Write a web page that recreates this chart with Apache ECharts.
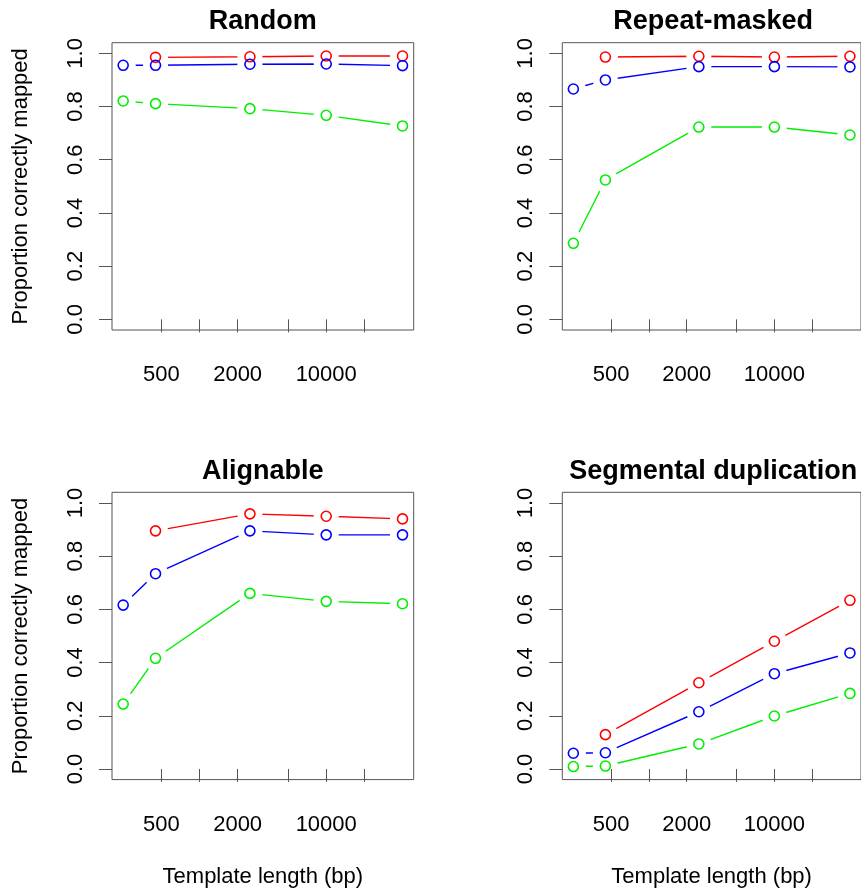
<!DOCTYPE html>
<html lang="en">

<head>
  <meta charset='utf-8'>
  <title>Proportion correctly mapped by template length</title>
  <style>
    html, body { margin: 0; padding: 0; background: #fff; overflow: hidden; }
  </style>
</head>

<body>
  <div id="main" style="width: 861px;height:891px;"></div>
  <script src="https://cdn.jsdelivr.net/npm/echarts@6/dist/echarts.min.js"></script>
  <script type="text/javascript">
    // template lengths (bp), one per point
    var lengths = [250, 450, 2500, 10000, 40000];
    var titles = ['Random', 'Repeat-masked', 'Alignable', 'Segmental duplication'];
    // proportion correctly mapped, one array per panel (null = no point)
    var redRandom = [null, 0.985, 0.987, 0.990, 0.990];
    var blueRandom = [0.955, 0.955, 0.959, 0.960, 0.954];
    var greenRandom = [0.821, 0.811, 0.792, 0.767, 0.727];
    var redMasked = [null, 0.986, 0.989, 0.986, 0.989];
    var blueMasked = [0.866, 0.900, 0.950, 0.950, 0.949];
    var greenMasked = [0.286, 0.524, 0.723, 0.723, 0.693];
    var redAlignable = [null, 0.895, 0.959, 0.950, 0.940];
    var blueAlignable = [0.616, 0.734, 0.895, 0.880, 0.880];
    var greenAlignable = [0.244, 0.416, 0.660, 0.630, 0.621];
    var redSegdup = [null, 0.129, 0.324, 0.480, 0.634];
    var blueSegdup = [0.059, 0.061, 0.215, 0.358, 0.436];
    var greenSegdup = [0.009, 0.011, 0.094, 0.199, 0.284];
    // axis ticks
    var xTicks = [500, 1000, 2000, 5000, 10000, 20000];
    var xLabels = [500, 2000, 10000];
    var yTicks = [0, 0.2, 0.4, 0.6, 0.8, 1.0];

    var panelData = [
      [redRandom, blueRandom, greenRandom],
      [redMasked, blueMasked, greenMasked],
      [redAlignable, blueAlignable, greenAlignable],
      [redSegdup, blueSegdup, greenSegdup]
    ];
    var colors = ['#ff0000', '#0000ff', '#00ee00'];
    var font = '"Liberation Sans", Arial, Helvetica, sans-serif';

    // panel boxes (2 x 2, right column runs off the page)
    var boxLeft = [112, 562.3];
    var boxTop = [42.7, 492.3];
    var boxW = 301.7;
    var boxH = 287.3;

    // R style: extend the range by 4% on each side, x on a log10 scale
    var lo = Math.log10(lengths[0]);
    var hi = Math.log10(lengths[lengths.length - 1]);
    var xMin = lo - 0.04 * (hi - lo);
    var xMax = hi + 0.04 * (hi - lo);

    function pairs(values) {
      var out = [];
      for (var i = 0; i < lengths.length; i++) {
        if (values[i] != null) out.push([Math.log10(lengths[i]), values[i]]);
      }
      return out;
    }

    var grids = [], xAxes = [], yAxes = [], series = [], graphics = [];
    for (var p = 0; p < 4; p++) {
      var col = p % 2, row = Math.floor(p / 2);
      grids.push({
        left: boxLeft[col], top: boxTop[row], width: boxW, height: boxH,
        show: true, borderColor: '#555', borderWidth: 1, backgroundColor: 'transparent', z: 10
      });
      xAxes.push({
        type: 'value', gridIndex: p, min: xMin, max: xMax, z: 10,
        name: row === 1 ? 'Template length (bp)' : '',
        nameLocation: 'middle', nameGap: 86,
        nameTextStyle: { fontSize: 22, lineHeight: 22, color: '#000', fontFamily: font },
        axisLine: { show: false },
        splitLine: { show: false },
        axisTick: {
          show: true, inside: false, length: 13,
          customValues: xTicks.map(function (v) { return Math.log10(v); }),
          lineStyle: { color: '#555', width: 1 }
        },
        axisLabel: {
          customValues: xLabels.map(function (v) { return Math.log10(v); }),
          formatter: function (v) { return String(Math.round(Math.pow(10, v))); },
          margin: 34, fontSize: 22, lineHeight: 22, color: '#000', fontFamily: font
        }
      });
      yAxes.push({
        type: 'value', gridIndex: p, min: -0.04, max: 1.04, z: 10,
        name: col === 0 ? 'Proportion correctly mapped' : '',
        nameLocation: 'middle', nameGap: 80,
        nameTextStyle: { fontSize: 22, lineHeight: 22, color: '#000', fontFamily: font },
        axisLine: { show: false },
        splitLine: { show: false },
        axisTick: {
          show: true, inside: false, length: 13, customValues: yTicks,
          lineStyle: { color: '#555', width: 1 }
        },
        axisLabel: {
          customValues: yTicks, rotate: 90,
          formatter: function (v) { return v.toFixed(1); },
          margin: 25, fontSize: 22, lineHeight: 22, color: '#000', fontFamily: font
        }
      });
      graphics.push({
        type: 'text',
        x: boxLeft[col] + boxW / 2,
        y: boxTop[row] - 21,
        style: {
          text: titles[p], fill: '#000',
          font: 'bold 27px ' + font,
          textAlign: 'center', textVerticalAlign: 'middle',
          align: 'center', verticalAlign: 'middle'
        }
      });

      for (var s = 0; s < 3; s++) {
        var d = pairs(panelData[p][s]);
        // connecting lines
        series.push({
          type: 'line', xAxisIndex: p, yAxisIndex: p, data: d,
          symbol: 'none', showSymbol: false, silent: true, z: 2,
          lineStyle: { color: colors[s], width: 1.4 }
        });
        // white gap round each point (type = "b")
        series.push({
          type: 'scatter', xAxisIndex: p, yAxisIndex: p, data: d,
          symbol: 'circle', symbolSize: 25, silent: true, z: 3,
          itemStyle: { color: '#fff', opacity: 1 }
        });
        // open circles
        series.push({
          type: 'scatter', xAxisIndex: p, yAxisIndex: p, data: d,
          symbol: 'circle', symbolSize: 10, silent: true, z: 4,
          itemStyle: { color: 'rgba(0,0,0,0)', borderColor: colors[s], borderWidth: 1.6, opacity: 1 }
        });
      }
    }

    var myChart = echarts.init(document.getElementById('main'));
    myChart.setOption({
      animation: false,
      backgroundColor: '#fff',
      textStyle: { fontFamily: font },
      grid: grids,
      xAxis: xAxes,
      yAxis: yAxes,
      series: series,
      graphic: graphics
    });
  </script>
</body>

</html>
